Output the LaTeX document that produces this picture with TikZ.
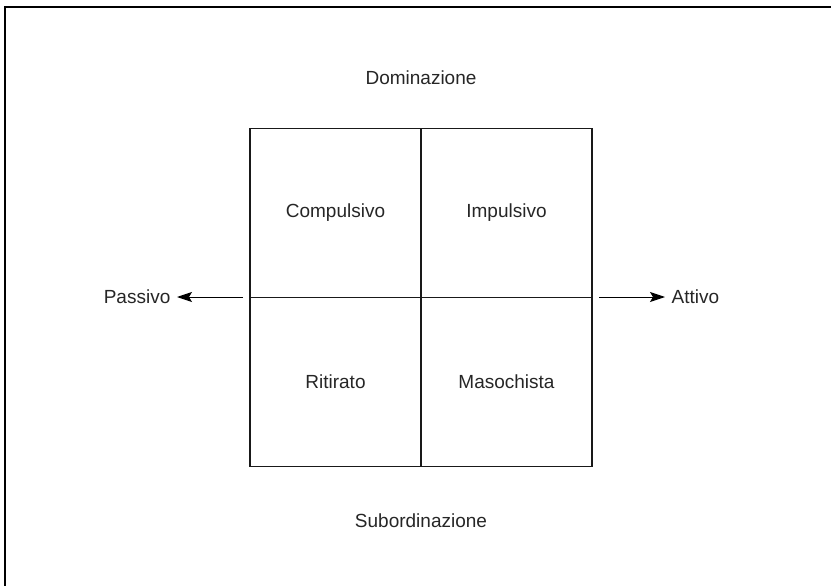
\documentclass[tikz,border=0pt]{standalone}
\usepackage{fontspec}
\setmainfont{Liberation Sans}
\usepackage{tikz}
\usetikzlibrary{arrows.meta}
\usetikzlibrary{positioning}

\begin{document}
\begin{tikzpicture}[x=1pt, y=-1pt,
                line width=1.3pt,
                every node/.style={text=black!85, font=\fontsize{19}{22}\selectfont},
                cell/.style n args={2}{draw=black!90,
                    minimum width=#1pt,
                    minimum height=#2pt,
                    inner sep=0pt,
                    rectangle},
                axis/.style={line width=1pt,
                    -{Stealth[length=15pt,width=10pt,inset=3pt]}}]
                \useasboundingbox (0,0) rectangle (831,586);
                % frame
                \draw (5,586) -- (5,7) -- (831,7);
                % the four cells
                \node[cell={171}{169}](comp) at (335.5, 213) {Compulsivo};
                \node[cell={171}{169}](imp) at (506.5, 213) {Impulsivo};
                \node[cell={171}{169}](rit) at (335.5, 382) {Ritirato};
                \node[cell={171}{169}](mas) at (506.5, 382) {Masochista};
                % vertical axis labels
                \node (dom) at (421, 78) {Dominazione};
                \node (sub) at (421, 521) {Subordinazione};
                % horizontal axis
                \node[anchor=east, inner sep=6pt] (pass) at (177, 297) {Passivo};
                \node[anchor=west, inner sep=6pt] (att) at (665, 297) {Attivo};
                \coordinate (pstart) at (243, 297);
                \coordinate (astart) at (599, 297);
                \draw[axis] (pstart) -- (pass);
                \draw[axis] (astart) -- (att);
            \end{tikzpicture}
\end{document}
